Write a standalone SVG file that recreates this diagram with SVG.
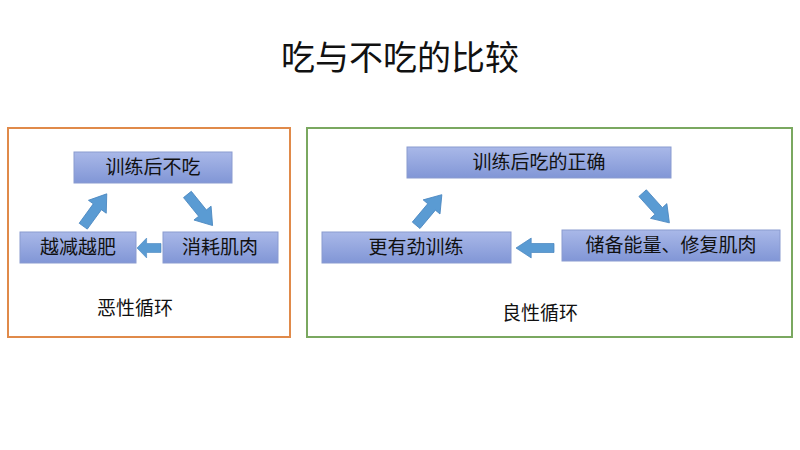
<svg xmlns="http://www.w3.org/2000/svg" xmlns:xlink="http://www.w3.org/1999/xlink" width="800" height="450" viewBox="0 0 800 450">
<style>
text{font-family:"Liberation Sans","Noto Sans CJK SC",sans-serif;fill:#111;text-anchor:middle}
.node{fill:url(#g);stroke:#8a9bd0;stroke-width:1}
.nt{font-size:19px}
.arr{fill:#5a9bd3;stroke:#4a86bf;stroke-width:0.8}
</style>
<defs>
<linearGradient id="g" x1="0" y1="0" x2="0" y2="1"><stop offset="0" stop-color="#a9b8e8"/><stop offset="1" stop-color="#8196d6"/></linearGradient>
<polygon id="ba" points="-20,-5 4,-5 4,-11 20,0 4,11 4,5 -20,5"/>
</defs>
<rect width="800" height="450" fill="#fff"/>
<text x="400" y="70" style="font-size:34px">吃与不吃的比较</text>
<rect x="8" y="128" width="282" height="209" fill="none" stroke="#e08a4a" stroke-width="2"/>
<rect x="307" y="128" width="485" height="209" fill="none" stroke="#7aa860" stroke-width="2"/>
<g id="n1"><rect class="node" x="74" y="152" width="158" height="31"/><text class="nt" x="153" y="174">训练后不吃</text></g>
<g id="n2"><rect class="node" x="163" y="232" width="115" height="31"/><text class="nt" x="220" y="254">消耗肌肉</text></g>
<g id="n3"><rect class="node" x="20" y="232" width="116" height="31"/><text class="nt" x="78" y="254">越减越肥</text></g>
<g id="n4"><rect class="node" x="407" y="147" width="264" height="31"/><text class="nt" x="539" y="169">训练后吃的正确</text></g>
<g id="n5"><rect class="node" x="562" y="230" width="218" height="31"/><text class="nt" x="671" y="252">储备能量、修复肌肉</text></g>
<g id="n6"><rect class="node" x="322" y="232" width="189" height="31"/><text class="nt" x="416" y="254">更有劲训练</text></g>
<g id="connectors">
<use href="#ba" class="arr" transform="translate(200,210) rotate(51)"/>
<use href="#ba" class="arr" transform="translate(149,248) rotate(180) scale(0.6,0.9)"/>
<use href="#ba" class="arr" transform="translate(95,210) rotate(-54)"/>
<use href="#ba" class="arr" transform="translate(656,208) rotate(48)"/>
<use href="#ba" class="arr" transform="translate(535,248) rotate(180) scale(0.95,0.9)"/>
<use href="#ba" class="arr" transform="translate(429,210) rotate(-50)"/>
</g>
<text x="135" y="315" style="font-size:19px">恶性循环</text>
<text x="540" y="320" style="font-size:19px">良性循环</text>
</svg>
